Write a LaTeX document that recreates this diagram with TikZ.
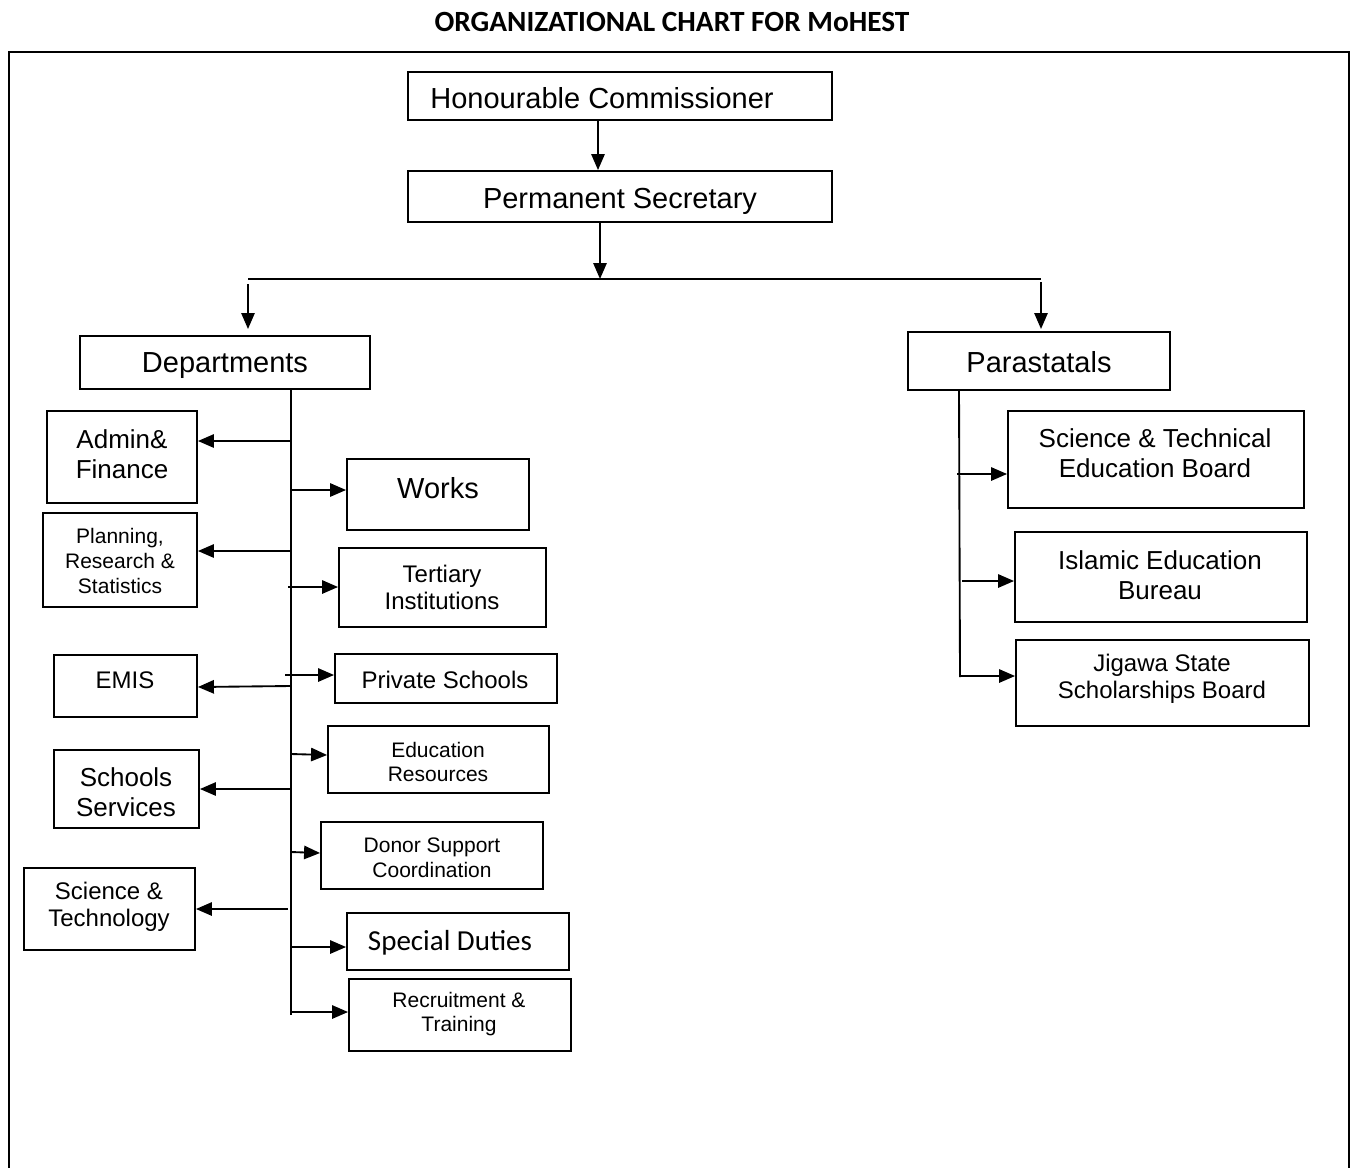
\documentclass[tikz,border=0pt]{standalone}
\usepackage{fontspec}
\setmainfont{Liberation Sans}
\newfontfamily\calib{Carlito}
\usetikzlibrary{arrows.meta,fit}
\tikzset{
 box/.style={draw, line width=1.4pt, inner sep=0pt},
 ln/.style={line width=1.4pt},
 arr/.style={line width=1.4pt, -{Triangle[length=12pt,width=10pt]}},
 fa/.style={font=\fontsize{21.75}{26}\selectfont, inner sep=0pt},
 fb/.style={font=\fontsize{19.5}{22.5}\selectfont, align=center, inner sep=0pt},
 fc/.style={font=\fontsize{18}{20.25}\selectfont, align=center, inner sep=0pt},
 fd/.style={font=\fontsize{15.75}{18.4}\selectfont, align=center, inner sep=0pt},
}
\begin{document}
\begin{tikzpicture}[x=0.75pt,y=-0.75pt]
\useasboundingbox (0,0) rectangle (1351,1167);
\fill[white] (0,0) rectangle (1351,1167);
% title and frame
\node[font=\calib\bfseries\fontsize{22}{26}\selectfont, inner sep=0pt] (title) at (672,22) {ORGANIZATIONAL CHART FOR MoHEST};
\draw[line width=1.4pt] (9,1180) -- (9,52) -- (1349,52) -- (1349,1180);
% boxes
\node[box, fit={(408,72)(832,120)}] (hc) {};
\node[box, fit={(408,171)(832,222)}] (ps) {};
\node[box, fit={(80,336)(370,389)}] (dep) {};
\node[box, fit={(908,332)(1170,390)}] (par) {};
\node[box, fit={(47,411)(197,503)}] (af) {};
\node[box, fit={(43,513)(197,607)}] (prs) {};
\node[box, fit={(54,655)(197,717)}] (emis) {};
\node[box, fit={(54,750)(199,828)}] (ss) {};
\node[box, fit={(24,868)(195,950)}] (st) {};
\node[box, fit={(347,459)(529,530)}] (wk) {};
\node[box, fit={(339,548)(546,627)}] (ti) {};
\node[box, fit={(335,654)(557,703)}] (psch) {};
\node[box, fit={(328,726)(549,793)}] (er) {};
\node[box, fit={(321,822)(543,889)}] (dsc) {};
\node[box, fit={(347,913)(569,970)}] (sd) {};
\node[box, fit={(349,979)(571,1051)}] (rt) {};
\node[box, fit={(1008,411)(1304,508)}] (steb) {};
\node[box, fit={(1015,532)(1307,622)}] (ieb) {};
\node[box, fit={(1016,640)(1309,726)}] (jssb) {};
% texts
\node[fa] (hct) at (602,98) {Honourable Commissioner};
\node[fa] (pst) at (620,201) {Permanent Secretary};
\node[fa] (dept) at (225,366) {Departments};
\node[fa] (part) at (1039,362) {Parastatals};
\node[fb] (aft) at (122,454) {Admin\&\\Finance};
\node[fd] (prst) at (120,561) {Planning,\\Research \&\\Statistics};
\node[fc] (emist) at (125,680) {EMIS};
\node[fb] (sst) at (126,792) {Schools\\Services};
\node[fc] (stt) at (109,907) {Science \&\\Technology};
\node[fa] (wkt) at (438,488) {Works};
\node[fc] (tit) at (442,587) {Tertiary\\Institutions};
\node[fc] (pscht) at (445,680) {Private Schools};
\node[fd] (ert) at (438,762) {Education\\Resources};
\node[fd] (dsct) at (432,858) {Donor Support\\Coordination};
\node[font=\calib\fontsize{21.75}{26}\selectfont, inner sep=0pt] (sdt) at (450,943) {Special Duties};
\node[fd] (rtt) at (459,1014) {Recruitment \&\\Training};
\node[fb] (stebt) at (1155,453) {Science \& Technical\\Education Board};
\node[fb] (iebt) at (1160,575) {Islamic Education\\Bureau};
\node[fc] (jssbt) at (1162,679) {Jigawa State\\Scholarships Board};
% top connectors
\draw[arr] (hc.south -| 598,0) -- (ps.north -| 598,0);
\coordinate (jc) at (600,279);
\coordinate (bl) at (248,279);
\coordinate (br) at (1041,279);
\draw[arr] (ps.south -| jc) -- (jc);
\draw[line width=2pt] (bl) -- (br);
\draw[arr] (248,284) -- (248,329 -| bl);
\draw[arr] (1041,282) -- (1041,329 -| br);
% departments trunk
\coordinate (dtop) at (291,389);
\coordinate (dbot) at (291,1015);
\draw[ln] (dtop) -- (dbot);
\draw[arr] (291,441) -- (af.east |- 0,441);
\draw[arr] (291,551) -- (prs.east |- 0,551);
\draw[arr] (291,686) -- (emis.east |- 0,687);
\draw[arr] (291,789) -- (ss.east |- 0,789);
\draw[arr] (288,909) -- (st.east |- 0,909);
\draw[arr] (291,490) -- (wk.west |- 0,490);
\draw[arr] (288,587) -- (ti.west |- 0,587);
\draw[arr] (285,675) -- (psch.west |- 0,675);
\draw[arr] (291,754) -- (er.west |- 0,755);
\draw[arr] (291,852) -- (dsc.west |- 0,853);
\draw[arr] (291,947) -- (sd.west |- 0,947);
\draw[arr] (291,1012) -- (rt.west |- 0,1012);
% parastatals trunk
\coordinate (ptop) at (959,390);
\coordinate (pbot) at (960,677);
\draw[ln] (ptop) -- (pbot);
\draw[arr] (957,474) -- (steb.west |- 0,474);
\draw[arr] (962,581) -- (ieb.west |- 0,581);
\draw[arr] (959,676) -- (jssb.west |- 0,676);
\end{tikzpicture}
\end{document}
